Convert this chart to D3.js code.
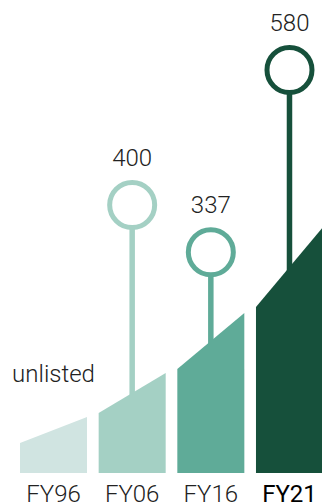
<!DOCTYPE html>
<html>
<head>
<meta charset="utf-8">
<script src="https://cdn.jsdelivr.net/npm/d3@7/dist/d3.min.js"></script>
<style>
html,body{margin:0;padding:0;background:#fff;}
svg{display:block;font-family:Roboto, "Noto Sans", sans-serif;}
</style>
</head>
<body>
<svg id="chart" width="322" height="504"></svg>
<script>
// Data
const categories = ["FY96", "FY06", "FY16", "FY21"];
const values = [null, 400, 337, 580];          // lollipop values (null = unlisted)
const valueLabels = ["unlisted", "400", "337", "580"];
const curveStart = [30, 60, 104, 166];          // background growth curve at left edge of each column
const curveEnd = [56, 100, 160, 246];           // background growth curve at right edge of each column
const colors = ["#d0e4e1", "#a4d0c4", "#5fab98", "#16503b"];
const highlight = "FY21";

const svg = d3.select("#chart");

const x = d3.scaleBand().domain(categories).range([20, 323]).paddingInner(0.148).paddingOuter(0);
const yVal = d3.scaleLinear().domain([0, 580]).range([505, 70]);
const yCurve = d3.scaleLinear().domain([0, 100]).range([473, 373]);

const rows = categories.map((c, i) => ({c, i, v: values[i], label: valueLabels[i], s: curveStart[i], e: curveEnd[i], color: colors[i]}));

const withVal = rows.filter(d => d.v != null);
const r = 22.5;
const cx = d => x(d.c) + x.bandwidth() / 2;

// stems (under columns)
svg.append("g").selectAll("line").data(withVal).join("line")
  .attr("x1", cx).attr("x2", cx)
  .attr("y1", d => yVal(d.v) + r)
  .attr("y2", yCurve(0))
  .attr("stroke", d => d.color)
  .attr("stroke-width", 5.5);

// columns following growth curve
const area = d3.area().x(p => p[0]).y0(yCurve(0)).y1(p => yCurve(p[1]));
svg.append("g").selectAll("path").data(rows).join("path")
  .attr("d", d => area([[x(d.c), d.s], [x(d.c) + x.bandwidth(), d.e]]))
  .attr("fill", d => d.color);

// circles
svg.append("g").selectAll("circle").data(withVal).join("circle")
  .attr("cx", cx)
  .attr("cy", d => yVal(d.v))
  .attr("r", r)
  .attr("fill", "#fff")
  .attr("stroke", d => d.color)
  .attr("stroke-width", 5);

// value labels
svg.append("g").selectAll("text").data(withVal).join("text")
  .attr("x", cx)
  .attr("y", d => yVal(d.v) - 39)
  .attr("text-anchor", "middle")
  .attr("font-size", 24)
  .attr("font-weight", 300)
  .attr("fill", "#222")
  .text(d => d.label);

// unlisted label
svg.append("g").selectAll("text").data(rows.filter(d => d.v == null)).join("text")
  .attr("x", cx)
  .attr("y", 382)
  .attr("text-anchor", "middle")
  .attr("font-size", 24)
  .attr("font-weight", 300)
  .attr("fill", "#222")
  .text(d => d.label);

// x axis labels
const axis = d3.axisBottom(x).tickSize(0).tickPadding(0);
const gx = svg.append("g").attr("transform", "translate(0,502)").call(axis);
gx.select(".domain").remove();
gx.selectAll("text")
  .attr("dy", 0)
  .attr("font-size", 24)
  .attr("font-family", "Roboto, sans-serif")
  .attr("font-weight", d => d === highlight ? 400 : 300)
  .attr("fill", d => d === highlight ? "#000" : "#222");
</script>
</body>
</html>
